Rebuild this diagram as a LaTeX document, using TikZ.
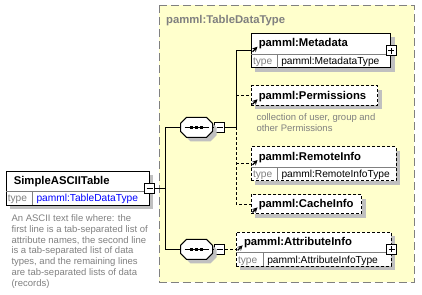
\documentclass[tikz,border=0pt]{standalone}
\usepackage{fontspec}
\setmainfont{Liberation Sans}
\usetikzlibrary{shadows, arrows, positioning}

\definecolor{paneyellow}{RGB}{255,255,204}
\definecolor{shadowgray}{RGB}{192,192,192}
\definecolor{labelgray}{RGB}{128,128,128}
\definecolor{typeblue}{RGB}{0,0,255}

\begin{document}
\begin{tikzpicture}[x=1pt, y=-1pt, line width=1pt]
		\tikzstyle{Elem} = [rectangle, draw=black, fill=white, inner sep=0pt, general shadow={fill=shadowgray, shadow xshift=4pt, shadow yshift=-4pt}]
		\tikzstyle{OptElem} = [Elem, dash pattern=on 3pt off 2pt]
		\tikzstyle{Seq} = [rectangle, inner sep=0pt, minimum width=31pt, minimum height=19pt]
		\tikzstyle{Minus} = [rectangle, draw=black, fill=white, inner sep=0pt, minimum size=10pt, path picture={\draw ([xshift=2pt]path picture bounding box.west) -- ([xshift=-2pt]path picture bounding box.east);}]
		\tikzstyle{Plus} = [rectangle, draw=black, fill=white, inner sep=0pt, minimum size=10pt, path picture={\draw ([xshift=2pt]path picture bounding box.west) -- ([xshift=-2pt]path picture bounding box.east); \draw ([yshift=2pt]path picture bounding box.south) -- ([yshift=-2pt]path picture bounding box.north);}]
		\tikzstyle{Name} = [anchor=base west, inner sep=0pt, font=\fontsize{11.3}{13}\selectfont\bfseries]
		\tikzstyle{TypeKey} = [anchor=base west, inner sep=0pt, text=labelgray, font=\fontsize{10.2}{12}\selectfont]
		\tikzstyle{TypeVal} = [anchor=base west, inner sep=0pt, font=\fontsize{10.2}{12}\selectfont]
		\tikzstyle{Note} = [anchor=north west, inner sep=0pt, align=left, text=labelgray, font=\fontsize{9.5}{10.83}\selectfont]
		\tikzstyle{Divider} = [draw=labelgray, line width=0.8pt]
		\tikzstyle{Ref} = [->, >=stealth, line width=1.3pt]
		\tikzstyle{opt} = [dash pattern=on 3pt off 2pt]

		\useasboundingbox (0,0) rectangle (422,294);

		\draw [fill=paneyellow, draw=labelgray, dash pattern=on 8pt off 4pt] (159.3,5.3) rectangle (414.3,282);
		\node (paneT) [anchor=base west, inner sep=0pt, text=labelgray, font=\fontsize{11.3}{13}\selectfont\bfseries] at (165.7,23.3) {pamml:TableDataType};

		\node (root) [Elem, minimum width=143pt, minimum height=34pt] at (77.5,188.3) {};
		\draw [Divider] (6,191.3) -- (149,191.3);
		\draw [Divider] (32,191.3) -- (32,205.3);
		\node (rootN) [Name] at (13.3,184) {SimpleASCIITable};
		\node (rootK) [TypeKey] at (7.3,201.8) {type};
		\node (rootV) [TypeVal, text=typeblue] at (36,201.8) {pamml:TableDataType};
		\node (rootTog) [Minus] at (root.east) {};
		\node (rootD) [Note] at (11,214) {An ASCII text file where: the\\first line is a tab-separated list of\\attribute names, the second line\\is a tab-separated list of data\\types, and the remaining lines\\are tab-separated lists of data\\(records)};

		\node (seq1) [Seq] at (196.5,127.3) {};
		\node (seq1Tog) [Minus] at (219.5,127.3) {};
		\node (seq2) [Seq] at (196.5,249.3) {};
		\node (seq2Tog) [Minus] at (219.5,249.3) {};
		\foreach \s in {seq1, seq2} {
			\fill [shadowgray, transform canvas={shift={(4,4)}}] ([xshift=6pt]\s.north west) -- ([xshift=-6pt]\s.north east) -- ([yshift=-6pt]\s.north east) -- ([yshift=6pt]\s.south east) -- ([xshift=-6pt]\s.south east) -- ([xshift=6pt]\s.south west) -- ([yshift=6pt]\s.south west) -- ([yshift=-6pt]\s.north west) -- cycle;
			\filldraw [fill=white] ([xshift=6pt]\s.north west) -- ([xshift=-6pt]\s.north east) -- ([yshift=-6pt]\s.north east) -- ([yshift=6pt]\s.south east) -- ([xshift=-6pt]\s.south east) -- ([xshift=6pt]\s.south west) -- ([yshift=6pt]\s.south west) -- ([yshift=-6pt]\s.north west) -- cycle;
			\draw ([xshift=4pt]\s.west) -- ([xshift=-4pt]\s.east);
			\foreach \dx in {-5,0,5}
				\fill ([xshift=\dx pt]\s.center) +(-1.5,-1.5) rectangle +(1.5,1.5);
		}

		\node (meta) [Elem, minimum width=139.7pt, minimum height=34.5pt] at (320.85,50.75) {};
		\draw [Divider] (251,54.5) -- (390.7,54.5);
		\draw [Divider] (277,54.5) -- (277,68);
		\node (metaN) [Name] at (258.3,46.7) {pamml:Metadata};
		\node (metaK) [TypeKey] at (252.5,65) {type};
		\node (metaV) [TypeVal] at (280.8,65) {pamml:MetadataType};
		\node (metaTog) [Plus] at (meta.east) {};

		\node (perm) [OptElem, minimum width=126.7pt, minimum height=19.3pt] at (314.35,95.35) {};
		\node (permN) [Name] at (258.3,99.3) {pamml:Permissions};
		\node (permD) [Note] at (256,113.5) {collection of user, group and\\other Permissions};

		\node (remote) [OptElem, minimum width=145pt, minimum height=34pt] at (323.5,163.7) {};
		\draw [Divider] (251,167.3) -- (396,167.3);
		\draw [Divider] (277.3,167.3) -- (277.3,180.7);
		\node (remoteN) [Name] at (258.3,160) {pamml:RemoteInfo};
		\node (remoteK) [TypeKey] at (252.5,177.8) {type};
		\node (remoteV) [TypeVal] at (281,177.8) {pamml:RemoteInfoType};

		\node (cache) [OptElem, minimum width=110.7pt, minimum height=19pt] at (306.35,204.2) {};
		\node (cacheN) [Name] at (258.3,207.4) {pamml:CacheInfo};

		\node (attr) [OptElem, minimum width=155pt, minimum height=34pt] at (313.5,249.3) {};
		\draw [Divider] (236,252.5) -- (391,252.5);
		\draw [Divider] (263,252.5) -- (263,266.3);
		\node (attrN) [Name] at (243.5,245.3) {pamml:AttributeInfo};
		\node (attrK) [TypeKey] at (237.5,263) {type};
		\node (attrV) [TypeVal] at (266.8,263) {pamml:AttributeInfoType};
		\node (attrTog) [Plus] at (attr.east) {};

		\foreach \e in {metaN, permN, remoteN, cacheN, attrN}
			\draw [Ref] ([shift={(-5.8,5)}]\e.base west) -- ([shift={(-0.8,0)}]\e.base west);

		\coordinate (rootBus) at (165,188.3);
		\coordinate (seq1Bus) at (236,127.3);
		\draw (rootTog) -- (rootBus);
		\draw (rootBus |- seq1.west) -- (rootBus |- seq2.west);
		\draw (rootBus |- seq1.west) -- (seq1.west);
		\draw (rootBus |- seq2.west) -- (seq2.west);
		\draw (seq1.east) -- (seq1Tog);
		\draw (seq2.east) -- (seq2Tog);
		\draw (seq1Tog) -- (seq1Bus);
		\draw (seq1Bus) -- (seq1Bus |- meta.west) -- (meta.west);
		\draw [opt] (seq1Bus) -- (seq1Bus |- cache.west) -- (cache.west);
		\draw [opt] (seq1Bus |- perm.west) -- (perm.west);
		\draw [opt] (seq1Bus |- remote.west) -- (remote.west);
		\draw [opt] (seq2Tog) -- (attr.west);
\end{tikzpicture}
\end{document}
